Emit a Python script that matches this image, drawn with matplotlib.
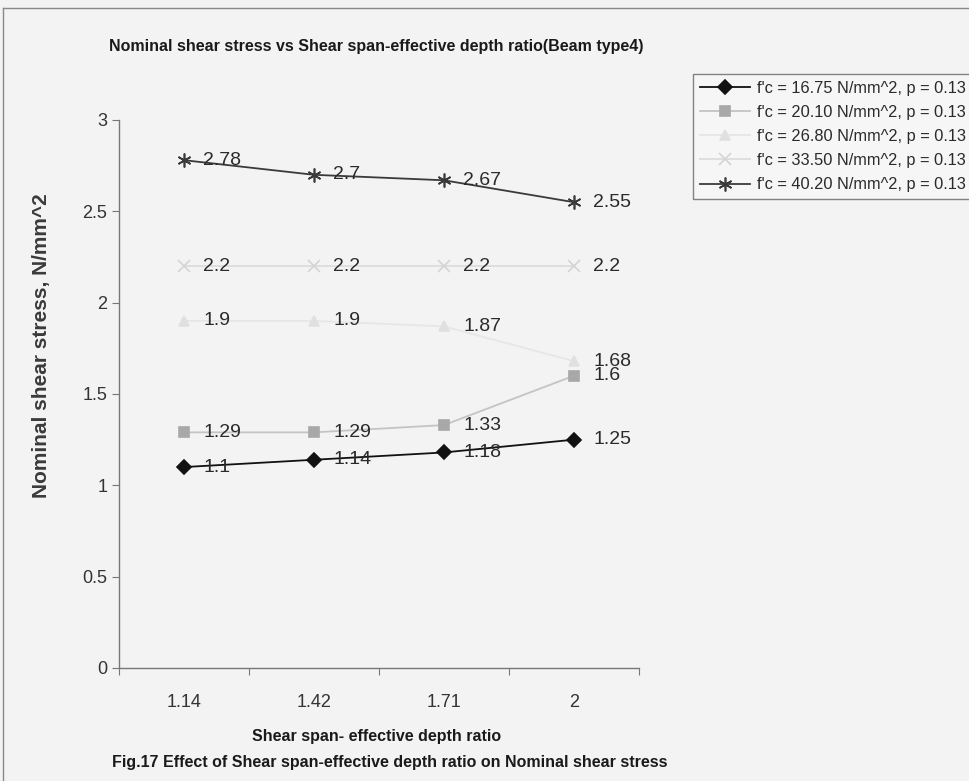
import matplotlib.pyplot as plt
from matplotlib.lines import Line2D

# --- data ---
ratios = ["1.14", "1.42", "1.71", "2"]
series_names = [
    "f'c = 16.75 N/mm^2, p = 0.13",
    "f'c = 20.10 N/mm^2, p = 0.13",
    "f'c = 26.80 N/mm^2, p = 0.13",
    "f'c = 33.50 N/mm^2, p = 0.13",
    "f'c = 40.20 N/mm^2, p = 0.13",
]
stress_1675 = [1.1, 1.14, 1.18, 1.25]
stress_2010 = [1.29, 1.29, 1.33, 1.6]
stress_2680 = [1.9, 1.9, 1.87, 1.68]
stress_3350 = [2.2, 2.2, 2.2, 2.2]
stress_4020 = [2.78, 2.7, 2.67, 2.55]
y_ticks = [0, 0.5, 1, 1.5, 2, 2.5, 3]

# --- styles (line colour, marker, marker colour, marker size) ---
styles = [
    ("#111111", "D", "#111111", 7),
    ("#c4c4c4", "s", "#a8a8a8", 7),
    ("#e6e6e6", "^", "#e0e0e0", 7),
    ("#dcdcdc", "x", "#d4d4d4", 8),
    ("#3a3a3a", (6, 2, 0), "#3a3a3a", 10),
]

W, H = 969, 781
fig = plt.figure(figsize=(W / 100, H / 100), dpi=100, facecolor="#f3f3f3")
ax = fig.add_axes([119 / W, 1 - 668 / H, 520 / W, 548 / H])
ax.set_facecolor("none")

x = list(range(len(ratios)))
all_series = [stress_1675, stress_2010, stress_2680, stress_3350, stress_4020]
for vals, name, (lc, mk, mc, ms) in zip(all_series, series_names, styles):
    ax.plot(x, vals, color=lc, lw=1.3, marker=mk, markersize=ms,
            markerfacecolor=mc, markeredgecolor=mc, markeredgewidth=1.2,
            label=name)
    for xi, v in zip(x, vals):
        ax.annotate(f"{v:g}", (xi, v), xytext=(14, 0), textcoords="offset points",
                    ha="left", va="center", fontsize=14, color="#2a2a2a",
                    family="Liberation Sans")

ax.set_xlim(-0.5, len(ratios) - 0.5)
ax.set_ylim(0, 3)
ax.set_yticks(y_ticks)
ax.set_yticklabels([f"{t:g}" for t in y_ticks], family="Liberation Sans",
                   fontsize=13, color="#333333")
# category boundaries as tick marks, labels centred on categories
ax.set_xticks([i - 0.5 for i in range(len(ratios) + 1)])
ax.set_xticklabels([])
ax.set_xticks(x, minor=True)
ax.set_xticklabels(ratios, minor=True, family="Liberation Sans",
                   fontsize=13, color="#333333")
ax.tick_params(axis="x", which="minor", length=0, pad=19)
ax.tick_params(axis="both", which="major", length=5, color="#777777",
               direction="out")
for side in ("top", "right"):
    ax.spines[side].set_visible(False)
for side in ("left", "bottom"):
    ax.spines[side].set_color("#777777")
    ax.spines[side].set_linewidth(1.0)

fig.text(376 / W, 1 - 47 / H,
         "Nominal shear stress vs Shear span-effective depth ratio(Beam type4)",
         ha="center", va="center", fontsize=11.5, weight="bold",
         family="Liberation Sans", color="#1a1a1a")
fig.text(377 / W, 1 - 737 / H, "Shear span- effective depth ratio",
         ha="center", va="center", fontsize=11.5, weight="bold",
         family="Liberation Sans", color="#1a1a1a")
fig.text(390 / W, 1 - 762 / H,
         "Fig.17 Effect of Shear span-effective depth ratio on Nominal shear stress",
         ha="center", va="center", fontsize=11.5, weight="bold",
         family="Liberation Sans", color="#1a1a1a")
fig.text(42 / W, 1 - 346 / H, "Nominal shear stress, N/mm^2", rotation=90,
         ha="center", va="center", fontsize=15, weight="bold",
         family="Liberation Sans", color="#3a3a3a")

leg = fig.legend(loc="upper left", bbox_to_anchor=(693 / W, 1 - 74 / H),
                 frameon=True, fancybox=False,
                 prop={"family": "Liberation Sans", "size": 11.8},
                 handlelength=3.1, handletextpad=0.4, labelspacing=0.56,
                 borderpad=0.4, borderaxespad=0)
leg.get_frame().set_edgecolor("#666666")
leg.get_frame().set_facecolor("#f8f8f8")
leg.get_frame().set_linewidth(1.0)
for t in leg.get_texts():
    t.set_color("#2a2a2a")

# outer border of the chart area (top and left edges are visible in the scan)
fig.add_artist(Line2D([3 / W, 1], [1 - 8 / H, 1 - 8 / H], transform=fig.transFigure,
                      color="#888888", lw=1.0))
fig.add_artist(Line2D([3 / W, 3 / W], [1 - 8 / H, 0], transform=fig.transFigure,
                      color="#888888", lw=1.0))

fig.savefig("out.png", dpi=100, facecolor=fig.get_facecolor())
